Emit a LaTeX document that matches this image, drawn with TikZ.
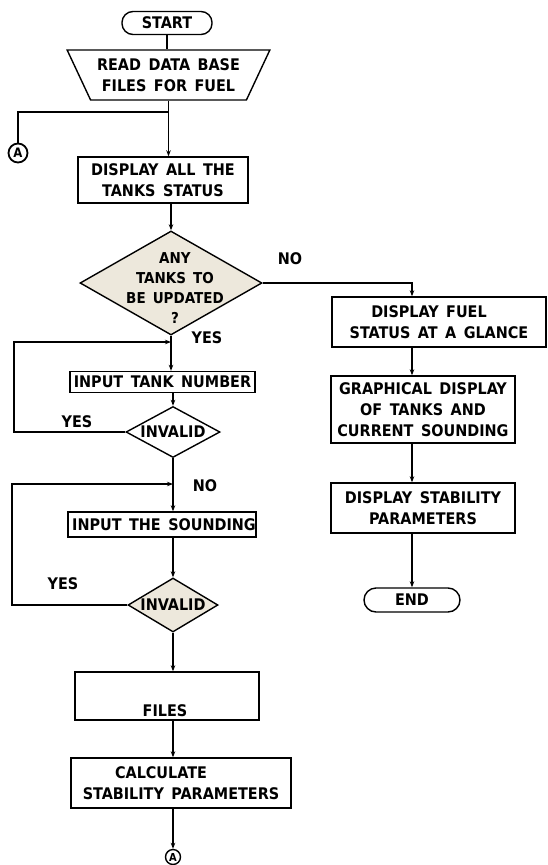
\documentclass[tikz,border=0pt]{standalone}
\usepackage{fontspec}
\setmainfont{DejaVu Sans Condensed}[BoldFont={DejaVu Sans Condensed Bold}, WordSpace={1.5}]
\usetikzlibrary{shapes.geometric,arrows.meta}
\definecolor{beige}{RGB}{237,232,220}
\tikzset{
  txt/.style={font=\fontsize{16}{21}\selectfont\bfseries, align=center, inner sep=0pt},
  box/.style={draw, line width=1.4pt, inner sep=0pt, txt},
  term/.style={box, rounded corners=11pt},
  dia/.style={draw, diamond, line width=1.4pt, inner sep=0pt},
  conn/.style={draw, circle, line width=1.8pt, inner sep=0pt, minimum size=19pt, font=\fontsize{13}{13}\selectfont\bfseries},
  ln/.style={line width=1.4pt},
  arr/.style={line width=1.4pt, -{Stealth[length=6pt,width=4.5pt]}},
}
\begin{document}
\begin{tikzpicture}[x=1pt,y=-1pt]
\useasboundingbox (0,0) rectangle (547,865);
% left column
\node[term, minimum width=90, minimum height=23] (start) at (167,23) {START};
\node[box, trapezium, trapezium stretches=true, shape border rotate=180,
      trapezium left angle=57, trapezium right angle=57,
      minimum width=203, minimum height=50] (read) at (168.5,75) {READ DATA BASE\\FILES FOR FUEL};
\node[conn] (a1) at (18,153) {A};
\node[box, minimum width=170, minimum height=46] (disp) at (163,180) {DISPLAY ALL THE\\TANKS STATUS};
\node[dia, fill=beige, minimum width=182, minimum height=104] (q1) at (171,283) {};
\node[txt, font=\fontsize{15}{20}\selectfont\bfseries] (q1t) at (175,288) {ANY\\TANKS TO\\BE UPDATED\\?};
\node[box, minimum width=185, minimum height=21] (in1) at (162.5,382) {INPUT TANK NUMBER};
\node[dia, fill=white, minimum width=94, minimum height=51] (inv1) at (173,432) {};
\node[txt] (inv1t) at (inv1) {INVALID};
\node[box, minimum width=186, minimum height=25] (in2) at (162,524.5) {\hspace*{4pt}INPUT THE SOUNDING};
\node[dia, fill=beige, minimum width=90, minimum height=54] (inv2) at (173,605) {};
\node[txt] (inv2t) at (inv2) {INVALID};
\node[box, minimum width=184, minimum height=48] (files) at (167,696) {};
\node[txt] (filest) at (165,711) {FILES};
\node[box, minimum width=220, minimum height=50] (calc) at (181,783) {\hspace*{-40pt}CALCULATE\\STABILITY PARAMETERS};
\node[conn, minimum size=15pt, line width=1.4pt, font=\fontsize{11}{11}\selectfont\bfseries] (a2) at (173,857) {A};
% right column
\node[box, minimum width=214, minimum height=50] (r1) at (439,322) {\hspace*{-20pt}DISPLAY FUEL\\STATUS AT A GLANCE};
\node[box, minimum width=184, minimum height=67] (r2) at (423,409.5) {GRAPHICAL DISPLAY\\OF TANKS AND\\CURRENT SOUNDING};
\node[box, minimum width=184, minimum height=50] (r3) at (423,508) {DISPLAY STABILITY\\PARAMETERS};
\node[term, minimum width=96, minimum height=24, rounded corners=12pt] (end) at (412,600) {END};
% labels
\node[txt] (no1) at (290,259) {NO};
\node[txt] (yes1) at (207,338) {YES};
\node[txt] (yes2) at (77,422) {YES};
\node[txt] (no2) at (205,486) {NO};
\node[txt] (yes3) at (63,584) {YES};
% coordinates
\coordinate (jA) at (168.5,112);
\coordinate (nc) at (412,283);
\coordinate (l1) at (14,342);
\coordinate (m1) at (171,342);
\coordinate (l2) at (12,484);
\coordinate (m2) at (173,484);
% connectors
\draw[ln] (start.south) -- (start.south |- read.north);
\draw[arr, line width=1.8pt] (read.south) -- (read.south |- disp.north);
\draw[ln] (jA) -| (a1.north);
\draw[arr] (q1.north |- disp.south) -- (q1.north);
\draw[arr] (q1.east) -- (nc) -- (nc |- r1.north);
\draw[arr] (q1.south) -- (q1.south |- in1.north);
\draw[arr] (inv1.north |- in1.south) -- (inv1.north);
\draw[arr] (inv1.west) -| (l1) -- (m1);
\draw[arr] (inv1.south) -- (inv1.south |- in2.north);
\draw[arr] (inv2.north |- in2.south) -- (inv2.north);
\draw[arr] (inv2.west) -| (l2) -- (m2);
\draw[arr] (inv2.south) -- (inv2.south |- files.north);
\draw[arr] (inv2.south |- files.south) -- (inv2.south |- calc.north);
\draw[arr] (a2 |- calc.south) -- (a2.north);
\draw[arr] (r1.south -| nc) -- (r2.north -| nc);
\draw[arr] (r2.south -| nc) -- (r3.north -| nc);
\draw[arr] (r3.south -| nc) -- (end.north);
\end{tikzpicture}
\end{document}
